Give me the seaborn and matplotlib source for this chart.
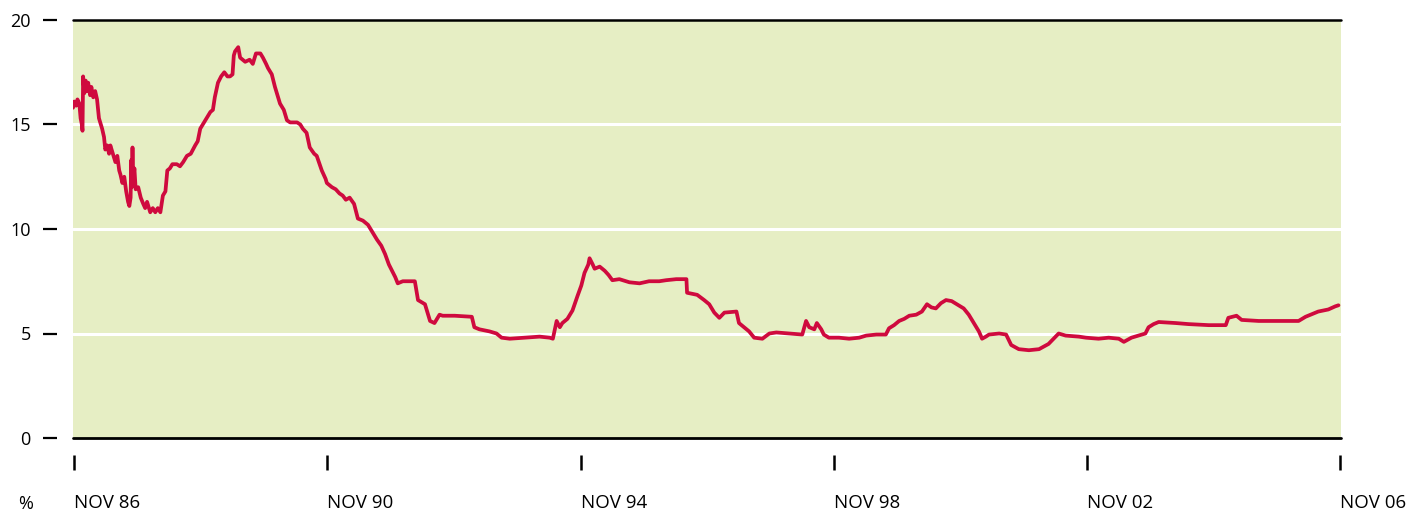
import numpy as np
import pandas as pd
import matplotlib
matplotlib.use("Agg")
import matplotlib.pyplot as plt
import seaborn as sns

# decimal years (Nov 1986 ~ 1986.83) and rate in %
years = [
    1986.81, 1986.83, 1986.86, 1986.88, 1986.91, 1986.93, 1986.95, 1986.96, 1986.97, 1986.99,
    1987.01, 1987.03, 1987.05, 1987.08, 1987.10, 1987.13, 1987.16, 1987.19, 1987.22, 1987.25,
    1987.27, 1987.30, 1987.32, 1987.35, 1987.38, 1987.40, 1987.44, 1987.48, 1987.51, 1987.54,
    1987.56, 1987.59, 1987.62, 1987.65, 1987.68, 1987.70, 1987.72, 1987.73, 1987.74, 1987.75,
    1987.76, 1987.78, 1987.80, 1987.84, 1987.88, 1987.92, 1987.95, 1987.98, 1988.03, 1988.07,
    1988.11, 1988.15, 1988.19, 1988.23, 1988.27, 1988.30, 1988.34, 1988.38, 1988.45, 1988.50,
    1988.55, 1988.61, 1988.67, 1988.74, 1988.78, 1988.82, 1988.90, 1988.98, 1989.02, 1989.05,
    1989.10, 1989.15, 1989.20, 1989.25, 1989.29, 1989.33, 1989.35, 1989.37, 1989.42, 1989.45,
    1989.53, 1989.60, 1989.65, 1989.70, 1989.77, 1989.81, 1989.86, 1989.89, 1989.95, 1990.00,
    1990.05, 1990.08, 1990.14, 1990.19, 1990.24, 1990.35, 1990.40, 1990.44, 1990.50, 1990.55,
    1990.62, 1990.66, 1990.74, 1990.80, 1990.82, 1990.90, 1990.96, 1991.02, 1991.07, 1991.12,
    1991.18, 1991.25, 1991.31, 1991.39, 1991.47, 1991.55, 1991.61, 1991.68, 1991.74, 1991.80,
    1991.85, 1991.90, 1991.94, 1992.02, 1992.21, 1992.26, 1992.37, 1992.45, 1992.52, 1992.60,
    1992.65, 1992.84, 1993.11, 1993.15, 1993.23, 1993.39, 1993.50, 1993.58, 1993.71, 1993.94,
    1994.18, 1994.34, 1994.39, 1994.45, 1994.50, 1994.54, 1994.62, 1994.70, 1994.78, 1994.84,
    1994.89, 1994.95, 1994.97, 1995.02, 1995.05, 1995.13, 1995.21, 1995.27, 1995.33, 1995.44,
    1995.60, 1995.76, 1995.91, 1996.07, 1996.18, 1996.34, 1996.50, 1996.51, 1996.67, 1996.78,
    1996.86, 1996.94, 1997.02, 1997.10, 1997.29, 1997.33, 1997.41, 1997.49, 1997.57, 1997.70,
    1997.81, 1997.92, 1998.12, 1998.33, 1998.39, 1998.44, 1998.52, 1998.56, 1998.63, 1998.67,
    1998.75, 1998.91, 1999.07, 1999.23, 1999.34, 1999.50, 1999.65, 1999.70, 1999.78, 1999.86,
    1999.94, 2000.02, 2000.13, 2000.22, 2000.30, 2000.37, 2000.44, 2000.52, 2000.60, 2000.69,
    2000.80, 2000.88, 2000.96, 2001.06, 2001.12, 2001.17, 2001.23, 2001.28, 2001.44, 2001.55,
    2001.63, 2001.75, 2001.91, 2002.07, 2002.22, 2002.30, 2002.38, 2002.49, 2002.70, 2002.81,
    2003.01, 2003.17, 2003.33, 2003.41, 2003.53, 2003.64, 2003.75, 2003.80, 2003.88, 2003.96,
    2004.23, 2004.43, 2004.75, 2005.02, 2005.06, 2005.19, 2005.27, 2005.54, 2005.85, 2006.17,
    2006.28, 2006.40, 2006.48, 2006.64, 2006.75, 2006.80,
]
rates = [
    15.8, 16.1, 15.9, 16.2, 16.0, 15.3, 15.0, 14.7, 17.3, 16.5,
    17.1, 16.6, 17.0, 16.4, 16.8, 16.3, 16.6, 16.2, 15.3, 15.0,
    14.8, 14.4, 13.8, 14.0, 13.6, 14.0, 13.6, 13.2, 13.5, 12.8,
    12.6, 12.2, 12.5, 11.8, 11.3, 11.1, 11.5, 13.3, 12.0, 13.9,
    12.3, 12.9, 11.9, 12.0, 11.5, 11.2, 11.0, 11.3, 10.8, 11.0,
    10.8, 11.0, 10.8, 11.6, 11.8, 12.8, 12.9, 13.1, 13.1, 13.0,
    13.2, 13.5, 13.6, 14.0, 14.2, 14.8, 15.2, 15.6, 15.7, 16.3,
    17.0, 17.3, 17.5, 17.3, 17.3, 17.4, 18.3, 18.5, 18.7, 18.2,
    18.0, 18.1, 17.9, 18.4, 18.4, 18.2, 17.9, 17.7, 17.4, 16.8,
    16.3, 16.0, 15.7, 15.2, 15.1, 15.1, 15.0, 14.8, 14.6, 13.9,
    13.6, 13.5, 12.8, 12.4, 12.2, 12.0, 11.9, 11.7, 11.6, 11.4,
    11.5, 11.2, 10.5, 10.4, 10.2, 9.8, 9.5, 9.2, 8.8, 8.3,
    8.0, 7.7, 7.4, 7.5, 7.5, 6.6, 6.4, 5.6, 5.5, 5.9,
    5.85, 5.85, 5.8, 5.3, 5.2, 5.1, 5.0, 4.8, 4.75, 4.8,
    4.85, 4.8, 4.75, 5.6, 5.3, 5.5, 5.7, 6.1, 6.8, 7.3,
    7.9, 8.3, 8.6, 8.3, 8.1, 8.2, 8.0, 7.8, 7.55, 7.6,
    7.45, 7.4, 7.5, 7.5, 7.55, 7.6, 7.6, 6.95, 6.85, 6.6,
    6.4, 6.0, 5.75, 6.0, 6.05, 5.5, 5.3, 5.1, 4.8, 4.75,
    5.0, 5.05, 5.0, 4.95, 5.6, 5.3, 5.2, 5.5, 5.2, 4.95,
    4.8, 4.8, 4.75, 4.8, 4.9, 4.95, 4.95, 5.25, 5.4, 5.6,
    5.7, 5.85, 5.9, 6.05, 6.4, 6.25, 6.2, 6.45, 6.6, 6.55,
    6.35, 6.2, 5.9, 5.4, 5.1, 4.75, 4.85, 4.95, 5.0, 4.95,
    4.45, 4.25, 4.2, 4.25, 4.5, 4.75, 5.0, 4.9, 4.85, 4.8,
    4.75, 4.8, 4.75, 4.6, 4.8, 4.9, 5.0, 5.3, 5.45, 5.55,
    5.5, 5.45, 5.4, 5.4, 5.75, 5.85, 5.65, 5.6, 5.6, 5.6,
    5.8, 5.95, 6.05, 6.15, 6.3, 6.35,
]

tick_years = [1986.83, 1990.83, 1994.83, 1998.83, 2002.83, 2006.83]
tick_labels = ["NOV 86", "NOV 90", "NOV 94", "NOV 98", "NOV 02", "NOV 06"]
y_ticks = [0, 5, 10, 15, 20]

df = pd.DataFrame({"year": years, "rate": rates})

sns.set_style("white")
plt.rcParams["font.family"] = ["Open Sans", "DejaVu Sans"]
plt.rcParams["text.color"] = "black"
plt.rcParams["xtick.color"] = "black"
plt.rcParams["ytick.color"] = "black"

fig = plt.figure(figsize=(14.2, 5.11), dpi=100)
ax = fig.add_axes([73 / 1420, 73 / 511, 1268 / 1420, 418 / 511])
ax.set_facecolor("#e6eec4")

sns.lineplot(data=df, x="year", y="rate", ax=ax, color="#cf0a3e",
             linewidth=2.7, estimator=None, sort=False, zorder=4)

# white gridlines
for v in [5, 10, 15]:
    ax.axhline(v, color="white", linewidth=2.2, zorder=2)
# black top/bottom rules
ax.axhline(0, color="black", linewidth=2.0, zorder=5, clip_on=False)
ax.axhline(20, color="black", linewidth=1.8, zorder=5, clip_on=False)

ax.set_xlim(1986.81, 2006.84)
ax.set_ylim(0, 20)

for s in ax.spines.values():
    s.set_visible(False)
ax.spines["left"].set_position(("outward", 11.5))
ax.spines["bottom"].set_position(("outward", 12.5))

ax.set_yticks(y_ticks)
ax.set_yticklabels([str(v) for v in y_ticks])
ax.tick_params(axis="y", length=10, width=1.6, pad=9,
               labelsize=13, labelcolor="black", left=True)

ax.set_xticks(tick_years)
ax.set_xticklabels(tick_labels)
ax.tick_params(axis="x", length=11, width=1.8, pad=17,
               labelsize=13.5, labelcolor="black", bottom=True)
for lbl in ax.get_xticklabels():
    lbl.set_horizontalalignment("left")

ax.set_xlabel("")
ax.set_ylabel("")
ax.grid(False)

fig.text(18 / 1420, 1 - 504 / 511, "%", fontsize=13, va="center", ha="left",
         color="black")

fig.savefig("out.png", dpi=100)
